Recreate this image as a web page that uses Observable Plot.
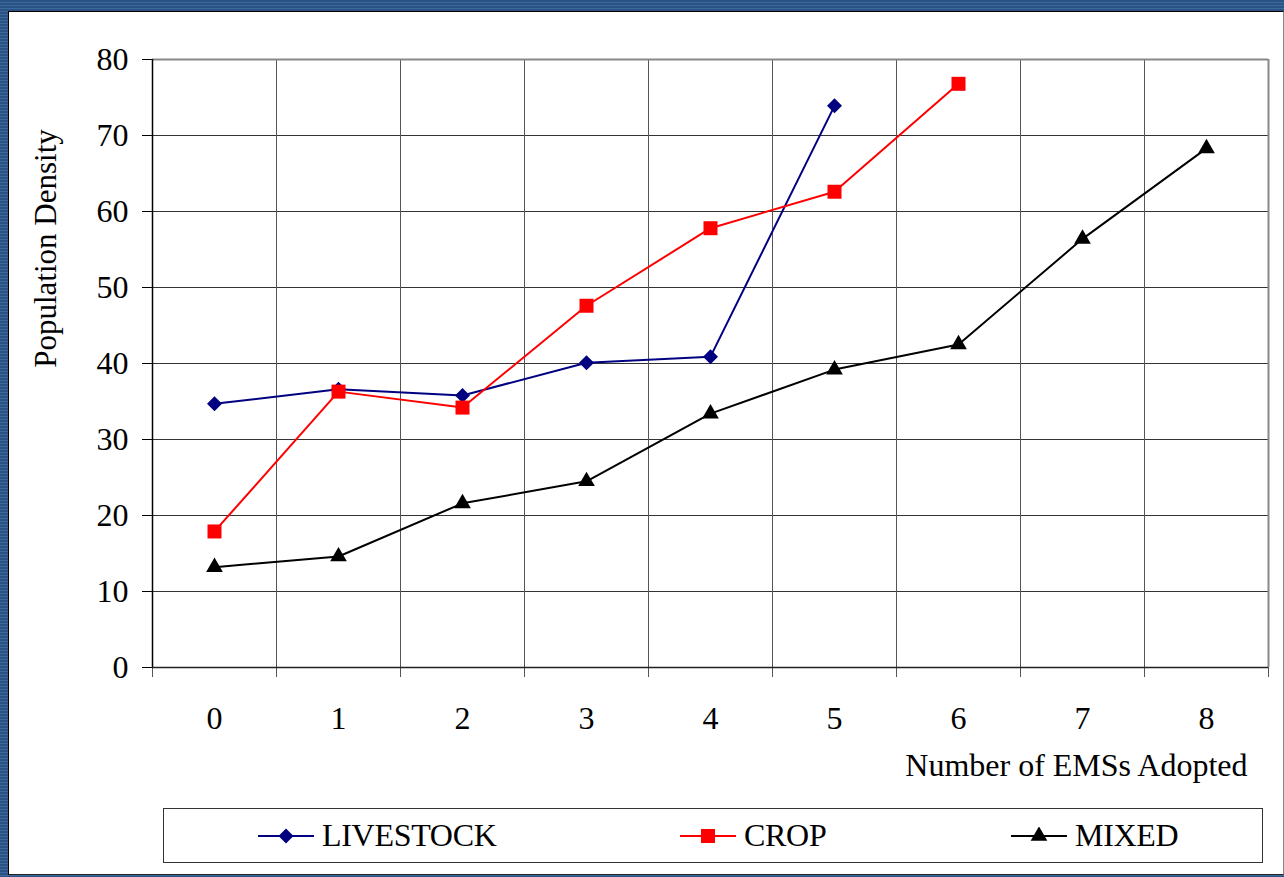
<!DOCTYPE html>
<html>
<head>
<meta charset="utf-8">
<script src="https://cdn.jsdelivr.net/npm/d3@7"></script>
<script src="https://cdn.jsdelivr.net/npm/@observablehq/plot@0.6"></script>
<style>
  html, body { margin: 0; padding: 0; }
  body {
    width: 1284px; height: 877px; overflow: hidden; position: relative;
    background: repeating-linear-gradient(to bottom, #2a5284 0px, #2a5284 2px, #3d6a9d 2px, #3d6a9d 3px);
    font-family: "Liberation Serif", "Times New Roman", serif;
  }
  #panel {
    position: absolute; left: 8px; top: 11px; width: 1276px; height: 864px;
    background: #fff; box-sizing: border-box;
    border-left: 1px solid #000; border-top: 1px solid #000;
    border-right: 1px solid #888; border-bottom: 1px solid #222;
  }
  #chart { position: absolute; left: 0; top: 0; }
  #chart svg { background: transparent; }
  #legend {
    position: absolute; left: 163px; top: 808px; width: 1100px; height: 55px;
    box-sizing: border-box; border: 1px solid #333; background: #fff;
  }
  .item { position: absolute; top: 0; height: 53px; display: flex; align-items: center; font-size: 32px; color: #000; letter-spacing: -0.3px; }
  .item svg { margin-right: 8px; }
</style>
</head>
<body>
<div id="panel"></div>
<div id="chart"></div>
<div id="legend"></div>
<script>
const categories = [0, 1, 2, 3, 4, 5, 6, 7, 8];
const livestock = [34.7, 36.6, 35.8, 40.1, 40.9, 73.9];
const crop = [17.9, 36.3, 34.2, 47.6, 57.8, 62.6, 76.8];
const mixed = [13.2, 14.6, 21.6, 24.5, 33.4, 39.2, 42.5, 56.4, 68.3];
const yTicks = [0, 10, 20, 30, 40, 50, 60, 70, 80];
const seriesNames = ["LIVESTOCK", "CROP", "MIXED"];
const xTitle = "Number of EMSs Adopted";
const yTitle = "Population Density";

const colors = {LIVESTOCK: "#000080", CROP: "#ff0000", MIXED: "#000000"};
const diamond = {
  draw(ctx, size) {
    const h = Math.sqrt(size / Math.PI);
    ctx.moveTo(0, -h); ctx.lineTo(h, 0); ctx.lineTo(0, h); ctx.lineTo(-h, 0); ctx.closePath();
  }
};
const symbols = {LIVESTOCK: diamond, CROP: "square", MIXED: "triangle"};
const radii = {LIVESTOCK: 7.5, CROP: 7.9, MIXED: 6.2};

const seriesValues = [livestock, crop, mixed];
const rows = [];
seriesNames.forEach((name, i) => {
  seriesValues[i].forEach((v, j) => rows.push({series: name, x: categories[j], y: v}));
});
const boundaries = [...categories.map(c => c - 0.5), categories[categories.length - 1] + 0.5];

const marks = [
  Plot.gridY(yTicks, {stroke: "#333", strokeOpacity: 1}),
  Plot.gridX(boundaries, {stroke: "#555", strokeOpacity: 1}),
  Plot.axisY({ticks: yTicks, tickSize: 10, tickPadding: 14, fontSize: 32, label: null, stroke: "#000"}),
  Plot.axisX({ticks: boundaries, tickSize: 10, tickFormat: () => "", label: null, stroke: "#555"}),
  Plot.axisX({ticks: categories, tickSize: 0, tickPadding: 39, fontSize: 32, label: null}),
  Plot.ruleY([yTicks[yTicks.length - 1]], {stroke: "#888", strokeWidth: 2}),
  Plot.ruleX([boundaries[boundaries.length - 1]], {stroke: "#888", strokeWidth: 2}),
  Plot.ruleY([yTicks[0]], {stroke: "#222", strokeWidth: 1.5}),
  Plot.ruleX([boundaries[0]], {stroke: "#000", strokeWidth: 1.5}),
  Plot.text([yTitle], {text: d => d, frameAnchor: "left", dx: -106, dy: -115, rotate: -90, fontSize: 31, lineAnchor: "middle", textAnchor: "middle"}),
  Plot.text([xTitle], {text: d => d, frameAnchor: "bottom-right", dx: -21, dy: 98, fontSize: 32, lineAnchor: "middle", textAnchor: "end"})
];
seriesNames.forEach(name => {
  const d = rows.filter(r => r.series === name);
  marks.push(Plot.line(d, {x: "x", y: "y", stroke: colors[name], strokeWidth: 2}));
  marks.push(Plot.dot(d, {x: "x", y: "y", fill: colors[name], stroke: "none", symbol: () => symbols[name], r: radii[name]}));
});

const chart = Plot.plot({
  width: 1284,
  height: 800,
  marginLeft: 152,
  marginRight: 16,
  marginTop: 59,
  marginBottom: 133,
  style: {background: "transparent", fontFamily: "Liberation Serif, Times New Roman, serif", color: "#000"},
  x: {type: "linear", domain: [boundaries[0], boundaries[boundaries.length - 1]]},
  y: {domain: [yTicks[0], yTicks[yTicks.length - 1]]},
  symbol: {type: "identity"},
  marks
});
document.getElementById("chart").appendChild(chart);

// Legend
const legend = document.getElementById("legend");
const itemLefts = [94, 516, 847];
seriesNames.forEach((name, i) => {
  const item = document.createElement("div");
  item.className = "item";
  item.style.left = itemLefts[i] + "px";
  const sw = d3.create("svg").attr("width", 56).attr("height", 18);
  sw.append("line").attr("x1", 0).attr("x2", 56).attr("y1", 9).attr("y2", 9).attr("stroke", colors[name]).attr("stroke-width", 2);
  const sym = typeof symbols[name] === "string" ? (name === "CROP" ? d3.symbolSquare : d3.symbolTriangle) : symbols[name];
  sw.append("path").attr("transform", "translate(28,9)").attr("fill", colors[name])
    .attr("d", d3.symbol(sym, Math.PI * radii[name] * radii[name])());
  item.appendChild(sw.node());
  const label = document.createElement("span");
  label.textContent = name;
  item.appendChild(label);
  legend.appendChild(item);
});
</script>
</body>
</html>
